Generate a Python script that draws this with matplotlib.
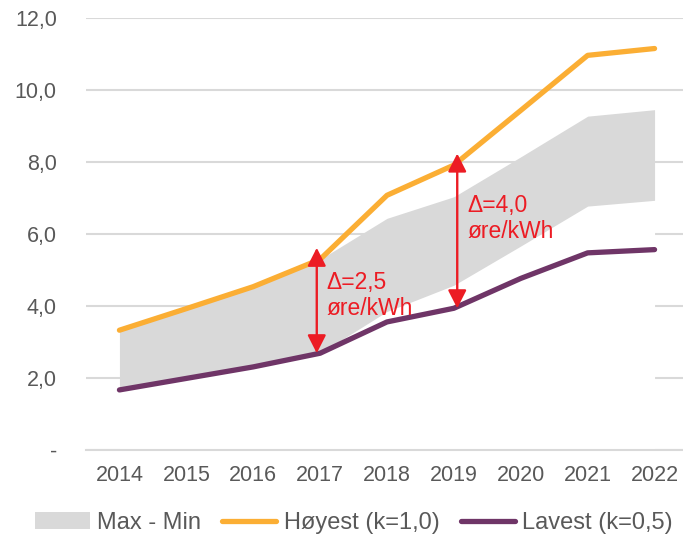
import numpy as np
import matplotlib.pyplot as plt

plt.rcParams['font.family'] = ['Liberation Sans', 'DejaVu Sans']

years = ["2014", "2015", "2016", "2017", "2018", "2019", "2020", "2021", "2022"]
hoyest = [3.33, 3.93, 4.54, 5.30, 7.08, 7.92, 9.44, 10.97, 11.16]
lavest = [1.67, 1.99, 2.31, 2.69, 3.56, 3.94, 4.77, 5.48, 5.57]
band_max = [3.33, 3.93, 4.54, 5.30, 6.44, 7.04, 8.15, 9.28, 9.46]
band_min = [1.67, 1.99, 2.31, 2.69, 3.85, 4.58, 5.67, 6.78, 6.94]
ytick_vals = [0, 2, 4, 6, 8, 10, 12]
ytick_labels = ["-", "2,0", "4,0", "6,0", "8,0", "10,0", "12,0"]

# delta arrows: year index, label
delta_idx = [3, 5]
delta_text = ["\u0394=2,5\nøre/kWh", "\u0394=4,0\nøre/kWh"]

c_orange = "#FBAE34"
c_purple = "#6F3567"
c_band = "#D9D9D9"
c_grid = "#D9D9D9"
c_red = "#EC1C24"
c_text = "#595959"

W, H = 683, 539
fig = plt.figure(figsize=(W / 100, H / 100), dpi=100)
# plot area in pixels: left 86, right 688, top 18, bottom 450
ax = fig.add_axes([86 / W, (H - 450) / H, (688 - 86) / W, (450 - 18.3) / H])

x = np.arange(len(years))

ax.fill_between(x, 0, band_min, color="white", lw=0, zorder=1)
ax.fill_between(x, band_min, band_max, color=c_band, lw=0, zorder=1,
                label="Max - Min")
ax.plot(x, hoyest, color=c_orange, lw=3.8, solid_capstyle="round", zorder=3,
        label="Høyest (k=1,0)")
ax.plot(x, lavest, color=c_purple, lw=3.8, solid_capstyle="round", zorder=3,
        label="Lavest (k=0,5)")

offs = [-0.05, 0.05]
for i, (k, txt) in enumerate(zip(delta_idx, delta_text)):
    xa = k + offs[i]
    ax.annotate("", xy=(xa, hoyest[k] + 0.32), xytext=(xa, lavest[k]),
                arrowprops=dict(arrowstyle="<|-|>,head_length=0.55,head_width=0.28",
                                color=c_red, lw=1.7, mutation_scale=20,
                                shrinkA=0, shrinkB=0),
                zorder=4)
    ymid = (hoyest[k] + lavest[k]) / 2
    ax.text(k + 0.1 + 0.1 * i, ymid + 0.3 * (1 - i) + 0.5 * i, txt, color=c_red,
            fontsize=16.5, va="center", ha="left", linespacing=1.15, zorder=5)

ax.set_xlim(-0.5, len(years) - 0.5)
ax.set_ylim(0, 12)
ax.set_xticks(x)
ax.set_xticklabels(years)
ax.set_yticks(ytick_vals)
ax.set_yticklabels(ytick_labels)

ax.grid(axis="y", color=c_grid, lw=1.5, zorder=0)
ax.set_axisbelow(True)
for s in ["top", "right", "left"]:
    ax.spines[s].set_visible(False)
ax.spines["bottom"].set_color(c_grid)
ax.spines["bottom"].set_linewidth(1.5)
ax.spines["bottom"].set_zorder(2)

ax.tick_params(axis="both", length=0, labelsize=15.5, colors=c_text)
ax.tick_params(axis="y", pad=21)
ax.tick_params(axis="x", pad=11)

fig.legend(loc="center", bbox_to_anchor=(354 / W, 1 - 523 / H), ncol=3,
           frameon=False, fontsize=17, labelcolor=c_text,
           handlelength=2.3, handleheight=0.7, handletextpad=0.3,
           columnspacing=0.9)

fig.savefig("out.png", dpi=100)
